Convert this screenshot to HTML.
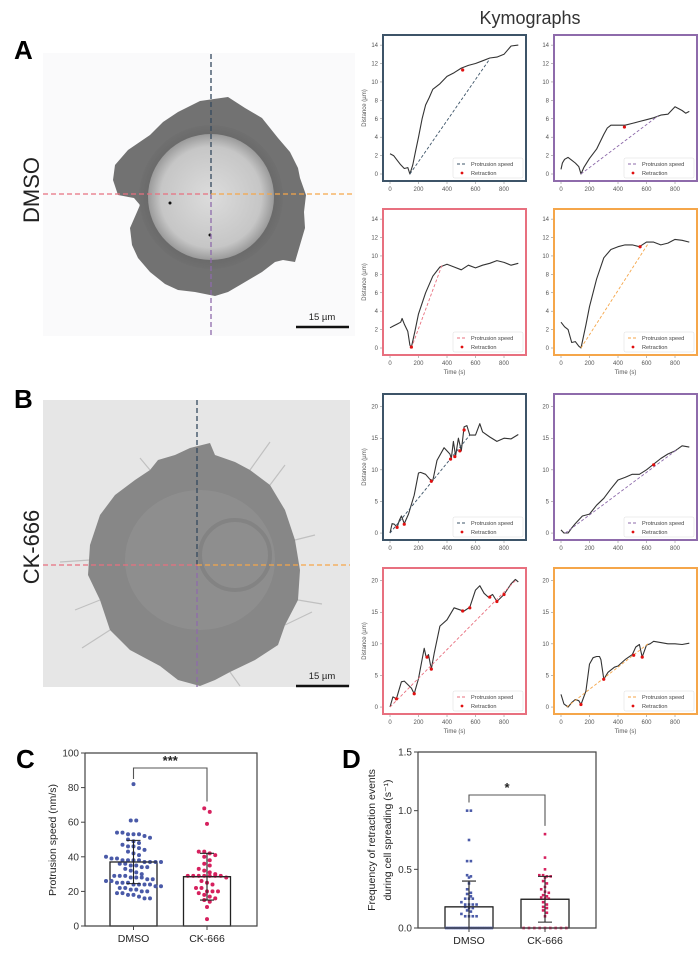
<!DOCTYPE html>
<html><head><meta charset="utf-8"><style>
html,body{margin:0;padding:0;background:#fff;}
svg{display:block;font-family:"Liberation Sans",Arial,sans-serif;}
</style></head><body>
<svg id="fig" width="700" height="957" viewBox="0 0 700 957">
<defs>
<radialGradient id="innerA" cx="50%" cy="50%" r="50%">
<stop offset="0" stop-color="#dcdcdc"/><stop offset="0.8" stop-color="#c6c6c6"/><stop offset="1" stop-color="#9a9a9a"/>
</radialGradient>
<radialGradient id="ringA" cx="50%" cy="50%" r="50%">
<stop offset="0.55" stop-color="#4a4a4a"/><stop offset="1" stop-color="#6e6e6e"/>
</radialGradient>
</defs>
<text x="14" y="59" font-size="26" font-weight="bold">A</text>
<text x="14" y="408" font-size="26" font-weight="bold">B</text>
<text x="16" y="768" font-size="26" font-weight="bold">C</text>
<text x="342" y="768" font-size="26" font-weight="bold">D</text>
<text x="530" y="24" font-size="18" fill="#333" text-anchor="middle">Kymographs</text>
<text transform="translate(39,190) rotate(-90)" font-size="22" fill="#222" text-anchor="middle">DMSO</text>
<text transform="translate(39,547) rotate(-90)" font-size="22" fill="#222" text-anchor="middle">CK-666</text>

<g>
<rect x="43" y="53" width="312" height="283" fill="#fafafb"/>
<path d="M115,165 L128,150 L150,135 L163,122 L178,112 L200,101 L214,99 L228,97 L245,108 L262,118 L270,128 L278,138 L290,152 L298,168 L300,178 L306,195 L304,212 L305,228 L300,245 L295,262 L283,260 L275,262 L262,272 L240,285 L228,292 L215,296 L195,292 L178,290 L165,284 L150,272 L138,258 L132,245 L130,228 L137,212 L140,205 L134,198 L118,195 L113,180 Z" fill="#727272"/>
<circle cx="211" cy="197" r="72" fill="url(#ringA)" opacity="0.55"/>
<circle cx="211" cy="197" r="63" fill="url(#innerA)"/>
<circle cx="170" cy="203" r="1.5" fill="#111"/><circle cx="210" cy="235" r="1.5" fill="#111"/>
<line x1="211" y1="54" x2="211" y2="194" stroke="#34495e" stroke-width="1.3" stroke-dasharray="5,3"/>
<line x1="211" y1="194" x2="211" y2="336" stroke="#8e6bab" stroke-width="1.3" stroke-dasharray="5,3"/>
<line x1="43" y1="194" x2="211" y2="194" stroke="#e8707f" stroke-width="1.3" stroke-dasharray="5,3"/>
<line x1="211" y1="194" x2="355" y2="194" stroke="#f5a64a" stroke-width="1.3" stroke-dasharray="5,3"/>
<line x1="296" y1="327" x2="349" y2="327" stroke="#111" stroke-width="2.5"/>
<text x="322" y="320" font-size="9.5" fill="#222" text-anchor="middle">15 µm</text>
</g>

<g>
<rect x="43" y="400" width="307" height="287" fill="#e6e6e6"/>
<g stroke="#a8a8a8" stroke-width="1.2" opacity="0.6">
<line x1="150" y1="470" x2="140" y2="458"/><line x1="250" y1="470" x2="270" y2="442"/><line x1="270" y1="485" x2="285" y2="465"/>
<line x1="295" y1="540" x2="315" y2="535"/><line x1="298" y1="600" x2="322" y2="604"/><line x1="285" y1="625" x2="312" y2="612"/>
<line x1="100" y1="600" x2="75" y2="610"/><line x1="90" y1="560" x2="60" y2="562"/>
<line x1="110" y1="630" x2="82" y2="648"/><line x1="230" y1="672" x2="240" y2="686"/>
</g>
<path d="M150,470 L158,460 L175,455 L190,448 L210,443 L215,455 L235,462 L250,470 L270,485 L285,510 L295,540 L300,570 L298,600 L285,625 L278,645 L255,660 L230,672 L215,680 L200,686 L178,680 L160,666 L130,650 L110,630 L100,600 L88,575 L90,545 L100,515 L115,495 L135,480 Z" fill="#878787"/>
<ellipse cx="200" cy="560" rx="75" ry="70" fill="#929292" opacity="0.7"/>
<ellipse cx="235" cy="555" rx="35" ry="35" fill="none" stroke="#777" stroke-width="4" opacity="0.5"/>
<line x1="197" y1="400" x2="197" y2="565" stroke="#34495e" stroke-width="1.3" stroke-dasharray="5,3"/>
<line x1="197" y1="565" x2="197" y2="687" stroke="#8e6bab" stroke-width="1.3" stroke-dasharray="5,3"/>
<line x1="43" y1="565" x2="197" y2="565" stroke="#e8707f" stroke-width="1.3" stroke-dasharray="5,3"/>
<line x1="197" y1="565" x2="350" y2="565" stroke="#f5a64a" stroke-width="1.3" stroke-dasharray="5,3"/>
<line x1="296" y1="686" x2="349" y2="686" stroke="#111" stroke-width="2.5"/>
<text x="322" y="679" font-size="9.5" fill="#222" text-anchor="middle">15 µm</text>
</g>

<g id="kymos"></g>
<g id="chartC"></g>
<g id="chartD"></g>
</svg>
<script>
const a1Time=[0,25,50,75,100,125,140,160,180,200,225,250,275,300,350,400,450,500,550,600,650,700,750,800,850,900];
const a1Dist=[2.2,2.0,1.5,1.0,0.6,0.7,0.0,1.0,2.5,4.0,6.0,7.5,8.3,9.2,9.8,10.6,11.0,11.5,11.8,12.0,12.3,12.6,12.7,13.0,13.9,14.0];
const a1Fit=[140,0,700,12.5]; const a1RetT=[510]; const a1RetD=[11.3];
const a2Time=[0,10,25,50,75,100,125,140,160,200,250,300,325,350,400,450,500,550,600,650,700,750,800,850,875,900];
const a2Dist=[0.5,1.2,1.6,1.8,1.5,1.2,0.8,0.0,0.7,1.7,2.7,4.3,5.0,5.3,5.3,5.3,5.5,5.7,5.9,6.1,6.4,6.5,7.3,6.9,6.6,6.8];
const a2Fit=[140,0,680,6.3]; const a2RetT=[445]; const a2RetD=[5.1];
const a3Time=[0,25,50,75,85,100,125,140,150,175,200,250,300,350,400,450,500,550,600,650,700,750,800,850,900];
const a3Dist=[2.2,2.4,2.6,2.8,3.2,2.6,1.8,0.3,0.1,1.8,3.7,6.0,7.8,8.8,9.1,8.8,8.5,9.0,8.7,9.0,9.2,9.5,9.3,9.0,9.2];
const a3Fit=[150,0,365,9]; const a3RetT=[150]; const a3RetD=[0.1];
const a4Time=[0,25,50,75,100,125,140,175,200,250,300,350,400,450,500,550,600,650,700,750,800,850,900];
const a4Dist=[2.8,2.3,2.0,0.6,0.7,0.2,0,2.5,4.5,7.5,9.8,10.7,11.0,11.2,11.2,11.0,11.5,11.5,11.2,11.4,11.8,11.7,11.5];
const a4Fit=[140,0,610,11.3]; const a4RetT=[555]; const a4RetD=[11.0];
const b1Time=[0,15,30,50,65,80,100,130,170,200,215,250,280,300,330,380,420,430,445,460,480,500,520,540,560,600,630,650,700,750,800,850,900];
const b1Dist=[0,1.5,1.4,0.9,2.0,2.7,1.5,3.0,6.0,9.5,9.6,9.3,8.5,8.3,11.5,13.5,12.5,11.8,14.5,12.2,15.0,13.0,16.8,17.0,15.5,15.5,17.3,16.0,15.2,14.5,15.0,14.9,15.6];
const b1Fit=[0,0,560,15.5]; const b1RetT=[50,100,290,425,455,490,520]; const b1RetD=[0.9,1.4,8.2,11.7,12.1,13.0,16.3];
const b2Time=[0,20,50,75,100,150,200,250,300,350,400,450,500,550,600,650,700,750,800,850,900];
const b2Dist=[0.5,0,0,0.8,1.5,2.7,3.0,4.4,5.5,7.0,8.4,8.8,9.3,9.3,10.0,10.9,11.8,12.5,13.0,13.8,13.6];
const b2Fit=[30,0,820,13.3]; const b2RetT=[650]; const b2RetD=[10.8];
const b3Time=[0,20,45,80,100,150,170,200,240,255,270,290,310,350,400,450,500,520,560,600,630,660,690,720,750,800,850,880,900];
const b3Dist=[0,1.6,1.3,4.0,4.1,3.0,2.1,4.5,9.3,7.8,8.3,6.0,8.5,12.8,13.8,15.7,15.3,15.2,15.8,18.5,19.2,18.0,17.4,17.8,16.7,17.8,19.5,20.2,19.8];
const b3Fit=[0,0,880,20]; const b3RetT=[45,170,260,290,510,560,700,750,800]; const b3RetD=[1.3,2.1,7.9,6.0,15.2,15.7,17.4,16.7,17.8];
const b4Time=[0,20,50,75,100,125,140,175,200,225,250,270,280,300,330,375,400,450,500,525,550,570,600,625,650,700,750,800,850,900];
const b4Dist=[2.0,0.5,0,0.7,1.2,1.0,0.4,2.5,6.8,7.8,8.0,8.0,7.5,4.4,5.5,6.3,6.5,7.5,8.3,9.5,9.9,7.9,9.8,10.0,10.4,10.2,10.0,10.0,9.9,10.1];
const b4Fit=[40,0,610,10]; const b4RetT=[140,300,510,570]; const b4RetD=[0.4,4.4,8.2,7.9];
const xTicks=[0,200,400,600,800];
const aYTicks=[0,2,4,6,8,10,12,14];
const bYTicks=[0,5,10,15,20];

const cCategories=["DMSO","CK-666"];
const cMeans=[37,28.5];
const cSD=[12.5,13.5];
const cDmso=[82,61,61,54,54,53,53,53,52,51,50,49,48,47,46,46,45,44,43,42,41,40,39,39,38,38,38,38,37,37,37,37,36,36,35,35,34,34,33,32,31,30,29,29,29,28,28,28,27,27,26,26,25,25,25,24,24,24,24,23,23,22,22,21,21,20,20,19,19,18,18,17,16,16];
const cCk=[68,66,59,43,43,42,41,40,38,36,35,33,32,31,30,29,29,29,29,29,29,29,28,26,25,24,22,22,20,20,20,19,18,17,16,15,14,11,4];
const cYTicks=[0,20,40,60,80,100];
const dCategories=["DMSO","CK-666"];
const dMeans=[0.18,0.245];
const dSD=[0.22,0.195];
const dDmso=[1.0,1.0,0.75,0.57,0.57,0.45,0.44,0.43,0.38,0.33,0.3,0.29,0.27,0.25,0.25,0.25,0.22,0.2,0.2,0.2,0.2,0.18,0.17,0.17,0.15,0.14,0.12,0.1,0.1,0.1,0.1,0,0,0,0,0,0,0,0,0,0,0,0,0,0,0,0,0,0,0,0];
const dCk=[0.8,0.6,0.5,0.45,0.45,0.44,0.44,0.43,0.4,0.38,0.35,0.33,0.31,0.3,0.28,0.27,0.26,0.25,0.25,0.22,0.2,0.18,0.17,0.15,0.13,0.1,0,0,0,0,0,0,0,0,0];
const dYTicks=[0.0,0.5,1.0,1.5];

const NS="http://www.w3.org/2000/svg";
function mk(tag,attrs,parent){const e=document.createElementNS(NS,tag);for(const k in attrs)e.setAttribute(k,attrs[k]);parent.appendChild(e);return e;}

function kymo(parent,bx,by,color,time,dist,fit,retT,retD,yTicks,ymin,ymax,leftCol,bottomRow,name){
  const W=143,H=146;
  const g=mk('g',{},parent);
  
  
  const sx=t=>bx+7+t*0.1425;
  const sy=d=>by+H-(d-ymin)/(ymax-ymin)*H;
  let pts=time.map((t,i)=>sx(t).toFixed(1)+','+sy(dist[i]).toFixed(1)).join(' ');
  const line=mk('polyline',{points:pts,fill:'none',stroke:'#333','stroke-width':1.1,'stroke-linejoin':'round'},g);
  
  
  const fl=mk('line',{x1:sx(fit[0]),y1:sy(fit[1]),x2:sx(fit[2]),y2:sy(fit[3]),stroke:color,'stroke-width':0.9,'stroke-dasharray':'3,2'},g);
  
  
  retT.forEach((t,i)=>{const c=mk('circle',{cx:sx(t),cy:sy(retD[i]),r:1.6,fill:'#e01010'},g);
    
    });
  const r=mk('rect',{x:bx,y:by,width:W,height:H,fill:'none',stroke:color,'stroke-width':2},g);
  
  
  yTicks.forEach(v=>{mk('line',{x1:bx-3,x2:bx-1,y1:sy(v),y2:sy(v),stroke:'#777','stroke-width':0.5},g);
    const t=mk('text',{x:bx-5,y:sy(v)+2,'font-size':6,fill:'#555','text-anchor':'end'},g);t.textContent=v;});
  xTicks.forEach(v=>{mk('line',{x1:sx(v),x2:sx(v),y1:by+H+1,y2:by+H+3,stroke:'#777','stroke-width':0.5},g);
    const t=mk('text',{x:sx(v),y:by+H+10,'font-size':6,fill:'#555','text-anchor':'middle'},g);t.textContent=v;});
  if(leftCol){const t=mk('text',{transform:`translate(${bx-17},${by+H/2}) rotate(-90)`,'font-size':6,fill:'#555','text-anchor':'middle'},g);t.textContent='Distance (µm)';
    }
  if(bottomRow){const t=mk('text',{x:bx+W/2,y:by+H+19,'font-size':6,fill:'#555','text-anchor':'middle'},g);t.textContent='Time (s)';
    }
  const lg=mk('g',{},g);
  
  
  mk('rect',{x:bx+70,y:by+123,width:70,height:20,fill:'#fff',stroke:'#ddd','stroke-width':0.5,rx:1.5},lg);
  mk('line',{x1:bx+74,x2:bx+84,y1:by+129,y2:by+129,stroke:color,'stroke-width':0.9,'stroke-dasharray':'3,2'},lg);
  let t=mk('text',{x:bx+88,y:by+131,'font-size':5.6,fill:'#444'},lg);t.textContent='Protrusion speed';
  mk('circle',{cx:bx+79,cy:by+138,r:1.4,fill:'#e01010'},lg);
  t=mk('text',{x:bx+88,y:by+140,'font-size':5.6,fill:'#444'},lg);t.textContent='Retraction';
}
const K=document.getElementById('kymos');
kymo(K,383,35,'#3d5468',a1Time,a1Dist,a1Fit,a1RetT,a1RetD,aYTicks,-0.76,15.1,true,false,'kymograph-dmso-top');
kymo(K,554,35,'#8e6bab',a2Time,a2Dist,a2Fit,a2RetT,a2RetD,aYTicks,-0.76,15.1,false,false,'kymograph-dmso-bottom');
kymo(K,383,209,'#e8707f',a3Time,a3Dist,a3Fit,a3RetT,a3RetD,aYTicks,-0.76,15.1,true,true,'kymograph-dmso-left');
kymo(K,554,209,'#f5a64a',a4Time,a4Dist,a4Fit,a4RetT,a4RetD,aYTicks,-0.76,15.1,false,true,'kymograph-dmso-right');
kymo(K,383,394,'#3d5468',b1Time,b1Dist,b1Fit,b1RetT,b1RetD,bYTicks,-1.1,22,true,false,'kymograph-ck666-top');
kymo(K,554,394,'#8e6bab',b2Time,b2Dist,b2Fit,b2RetT,b2RetD,bYTicks,-1.1,22,false,false,'kymograph-ck666-bottom');
kymo(K,383,568,'#e8707f',b3Time,b3Dist,b3Fit,b3RetT,b3RetD,bYTicks,-1.1,22,true,true,'kymograph-ck666-left');
kymo(K,554,568,'#f5a64a',b4Time,b4Dist,b4Fit,b4RetT,b4RetD,bYTicks,-1.1,22,false,true,'kymograph-ck666-right');

function scatterBar(g,o){
  const sy=v=>o.y0-(v-o.ymin)/(o.ymax-o.ymin)*(o.y0-o.y1);
  const cols=['#4a5aa8','#d6205e'];
  [o.a,o.b].forEach((vals,gi)=>{
    const cx=o.cx[gi];
    const bar=mk('rect',{x:cx-o.bw/2,y:sy(o.means[gi]),width:o.bw,height:o.y0-sy(o.means[gi]),fill:'#fff',stroke:'#222','stroke-width':1.3},g);
    
    
    const bins={};
    vals.forEach(v=>{const k=Math.round(v/o.bin);bins[k]=(bins[k]||0)+1;});
    const seen={};
    vals.forEach(v=>{const k=Math.round(v/o.bin);seen[k]=(seen[k]||0)+1;const idx=seen[k]-1;const n=bins[k];
      let dx=o.dx;
      if(v===0 && o.zeroSpread) dx=Math.min(o.bw/(n),8);
      const off=(idx-(n-1)/2)*dx;
      const d=mk(o.sq?'rect':'circle',o.sq?{x:cx+off-1.3,y:sy(v)-1.3,width:2.6,height:2.6,fill:cols[gi]}:{cx:cx+off,cy:sy(v),r:o.r,fill:cols[gi]},g);
      
      });
    const hi=sy(o.means[gi]+o.sd[gi]),lo=sy(Math.max(0,o.means[gi]-o.sd[gi]));
    const eb=mk('path',{d:`M${cx},${hi}V${lo}M${cx-7},${hi}H${cx+7}M${cx-7},${lo}H${cx+7}M${cx-o.bw/2},${sy(o.means[gi])}H${cx+o.bw/2}`,stroke:'#222','stroke-width':1.1,fill:'none'},g);
    
    
    const t=mk('text',{x:cx,y:o.y0+16,'font-size':10.5,'text-anchor':'middle',fill:'#222'},g);t.textContent=o.cats[gi];
    
  });
  const ax=mk('path',{d:`M${o.x0},${o.y1}V${o.y0}H${o.x2}V${o.y1}H${o.x0}`,fill:'none',stroke:'#444','stroke-width':1.2},g);
  
  
  o.ticks.forEach(v=>{mk('line',{x1:o.x0-4,x2:o.x0,y1:sy(v),y2:sy(v),stroke:'#444','stroke-width':1},g);
    const t=mk('text',{x:o.x0-6,y:sy(v)+3.5,'font-size':10,'text-anchor':'end',fill:'#333'},g);t.textContent=o.fmt(v);});
  o.cx.forEach(c=>mk('line',{x1:c,x2:c,y1:o.y0,y2:o.y0+4,stroke:'#444','stroke-width':1},g));
  const br=mk('path',{d:`M${o.cx[0]},${sy(o.brL)}V${o.brY}H${o.cx[1]}V${sy(o.brR)}`,fill:'none',stroke:'#555','stroke-width':1.1},g);
  
  
  const st=mk('text',{x:(o.cx[0]+o.cx[1])/2,y:o.brY-3,'font-size':13,'font-weight':'bold','text-anchor':'middle',fill:'#222'},g);st.textContent=o.star;
  
}
const gC=document.getElementById('chartC');

scatterBar(gC,{x0:85,x2:257,y0:926,y1:753,ymin:0,ymax:100,cx:[133.5,207],bw:47,means:cMeans,sd:cSD,a:cDmso,b:cCk,cats:cCategories,ticks:cYTicks,fmt:v=>v,bin:3.5,dx:5.5,r:2,brL:85,brR:72,brY:768,star:'***'});
let t=mk('text',{transform:'translate(56,840) rotate(-90)','font-size':10.5,'text-anchor':'middle',fill:'#222'},gC);t.textContent='Protrusion speed (nm/s)';

const gD=document.getElementById('chartD');

scatterBar(gD,{x0:418,x2:596,y0:928,y1:752,ymin:0,ymax:1.5,cx:[469,545],bw:48,means:dMeans,sd:dSD,a:dDmso,b:dCk,cats:dCategories,ticks:dYTicks,fmt:v=>v.toFixed(1),bin:0.035,dx:3.8,r:1.4,sq:true,zeroSpread:true,brL:1.07,brR:0.87,brY:795,star:'*'});
t=mk('text',{transform:'translate(375,840) rotate(-90)','font-size':10.5,'text-anchor':'middle',fill:'#222'},gD);t.textContent='Frequency of retraction events';

t=mk('text',{transform:'translate(391,840) rotate(-90)','font-size':10.5,'text-anchor':'middle',fill:'#222'},gD);t.textContent='during cell spreading (s\u207B\u00B9)';

</script>
</body></html>
